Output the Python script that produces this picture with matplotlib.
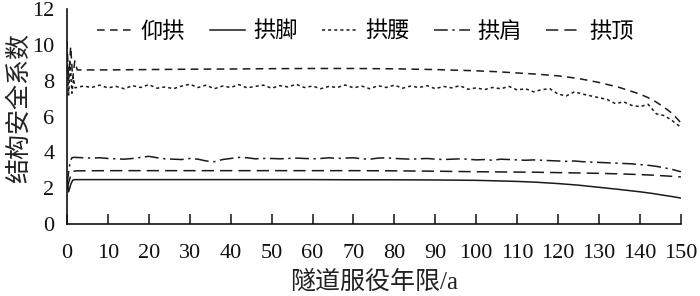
import numpy as np
import matplotlib
matplotlib.use('Agg')
import matplotlib.pyplot as plt

plt.rcParams['font.family'] = ['Liberation Serif', 'Noto Sans CJK SC']
plt.rcParams['axes.unicode_minus'] = False

# 平滑曲线的年份 (仰拱 / 拱脚 / 拱顶)
years_a = [0, 0.4, 0.9, 1.4, 1.9, 2.5, 10, 20, 30, 40, 50, 60, 70, 80, 90, 100,
           105, 110, 115, 120, 125, 130, 135, 140, 143, 146, 148, 150]
yanggong = [10.2, 8.0, 9.9, 8.1, 9.1, 8.6, 8.6, 8.62, 8.64, 8.65, 8.67, 8.68,
            8.68, 8.66, 8.62, 8.55, 8.5, 8.43, 8.36, 8.27, 8.12, 7.9, 7.62,
            7.25, 6.95, 6.5, 6.15, 5.65]
gongjiao = [2.5, 1.8, 2.2, 2.45, 2.48, 2.48, 2.48, 2.48, 2.48, 2.48, 2.48,
            2.48, 2.47, 2.47, 2.46, 2.44, 2.41, 2.38, 2.33, 2.26, 2.17, 2.05,
            1.93, 1.8, 1.71, 1.6, 1.53, 1.45]
gongding = [2.0, 2.3, 2.7, 2.92, 2.96, 2.97, 2.98, 2.98, 2.98, 2.98, 2.98,
            2.98, 2.98, 2.97, 2.95, 2.92, 2.91, 2.9, 2.89, 2.87, 2.85, 2.83,
            2.8, 2.76, 2.73, 2.69, 2.66, 2.63]

# 波动曲线的年份 (拱腰 / 拱肩)
years_b = [0, 0.4, 0.8, 1.2, 1.6] + list(range(2, 151, 2))
gongyao = [9.6, 7.2, 9.0, 7.3, 8.1,
           7.60, 7.70, 7.62, 7.75, 7.60, 7.68, 7.55, 7.72, 7.62, 7.78, 7.58,
           7.65, 7.55, 7.70, 7.80, 7.62, 7.75, 7.55, 7.70, 7.62, 7.78, 7.60,
           7.68, 7.75, 7.58, 7.72, 7.65, 7.80, 7.62, 7.70, 7.55, 7.68, 7.62,
           7.76, 7.60, 7.70, 7.55, 7.72, 7.62, 7.75, 7.58, 7.70, 7.62, 7.72,
           7.55, 7.68, 7.60, 7.72, 7.52, 7.60, 7.50, 7.62, 7.55, 7.68, 7.48,
           7.55, 7.38, 7.50, 7.55, 7.25, 7.15, 7.38, 7.25, 7.15, 7.05, 6.95,
           6.72, 6.82, 6.62, 6.55, 6.68, 6.15, 6.05, 5.75, 5.40]
gongjian = [2.2, 2.9, 3.5, 3.7, 3.72,
            3.72, 3.70, 3.68, 3.70, 3.66, 3.64, 3.62, 3.66, 3.72, 3.78, 3.70,
            3.64, 3.62, 3.60, 3.66, 3.62, 3.52, 3.48, 3.60, 3.66, 3.72, 3.70,
            3.64, 3.66, 3.66, 3.64, 3.66, 3.68, 3.66, 3.64, 3.66, 3.70, 3.66,
            3.68, 3.70, 3.64, 3.62, 3.68, 3.70, 3.66, 3.64, 3.62, 3.64, 3.66,
            3.62, 3.60, 3.62, 3.64, 3.62, 3.58, 3.60, 3.56, 3.62, 3.60, 3.58,
            3.56, 3.58, 3.56, 3.54, 3.52, 3.50, 3.52, 3.48, 3.46, 3.44, 3.42,
            3.40, 3.38, 3.36, 3.32, 3.28, 3.22, 3.14, 3.04, 2.92]

line_c = '#1a1a1a'
lw = 1.1

fig = plt.figure(figsize=(7, 2.96), dpi=100)
ax = fig.add_axes([0.0957, 0.243, 0.877, 0.7267])

ax.plot(years_a, yanggong, color=line_c, lw=lw, ls=(0, (5, 3.5)), label='仰拱')
ax.plot(years_a, gongjiao, color=line_c, lw=lw, ls='-', label='拱脚')
ax.plot(years_b, gongyao, color=line_c, lw=lw, ls=(0, (2, 2)), label='拱腰')
ax.plot(years_b, gongjian, color=line_c, lw=lw, ls=(0, (9, 3, 1.5, 3)), label='拱肩')
ax.plot(years_a, gongding, color=line_c, lw=lw, ls=(0, (8, 4)), label='拱顶')

ax.set_xlim(0, 150)
ax.set_ylim(0, 12)
ax.set_xticks(np.arange(0, 151, 10))
ax.set_yticks(np.arange(0, 13, 2))

for s in ['top', 'right']:
    ax.spines[s].set_visible(False)
for s in ['left', 'bottom']:
    ax.spines[s].set_linewidth(1.2)
    ax.spines[s].set_color('#111111')

ax.tick_params(axis='x', direction='in', length=7, width=1.1, pad=14,
               labelsize=16, colors='#111111')
ax.tick_params(axis='y', length=0, pad=9, labelsize=16, colors='#111111')

ax.set_xlabel('隧道服役年限/a', fontsize=18, labelpad=6, color='#222222')
ax.set_ylabel('结构安全系数', fontsize=18, color='#222222', va='center')
ax.yaxis.set_label_coords(-0.078, 0.54)

ax.legend(loc='center left', bbox_to_anchor=(0.035, 0.893), ncol=5,
          frameon=False, fontsize=16, handlelength=1.6, handletextpad=0.35,
          columnspacing=1.1, borderaxespad=0)

fig.savefig('out.png', dpi=100)
